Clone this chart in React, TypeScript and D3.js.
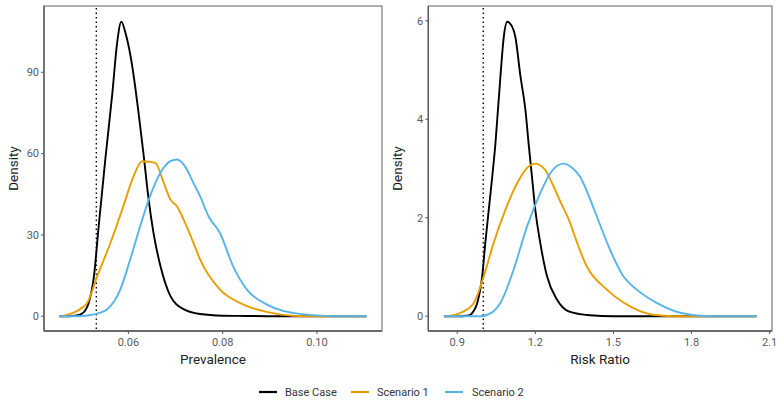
import React from "react";
import * as d3 from "d3";

// ---------- Data ----------
const seriesNames = ["Base Case", "Scenario 1", "Scenario 2"];
const seriesColors = ["#000000", "#E69F00", "#56B4E9"];

// Prevalence panel
const prevBaseX = [0.0454, 0.047, 0.048, 0.049, 0.0499, 0.0508, 0.0516, 0.0527, 0.0537, 0.0551, 0.0566, 0.0576, 0.0585, 0.0594, 0.0606, 0.0615, 0.0623, 0.0632, 0.0643, 0.0653, 0.0668, 0.0689, 0.0717, 0.0752, 0.08, 0.085, 0.09, 0.1105];
const prevBaseY = [0, 0, 0.1, 0.3, 0.7, 2, 5, 14.8, 33.2, 57.8, 82.3, 100.7, 108.7, 104.4, 94.6, 84, 73, 60, 43, 31, 18.5, 7.5, 2.6, 0.8, 0.2, 0.1, 0, 0];
const prevS1X = [0.0454, 0.047, 0.0485, 0.0499, 0.0513, 0.0534, 0.0562, 0.0587, 0.0611, 0.0629, 0.0643, 0.0657, 0.0675, 0.0689, 0.0703, 0.0717, 0.0738, 0.0752, 0.0794, 0.0843, 0.0893, 0.0949, 0.1, 0.1105];
const prevS1Y = [0, 0.5, 1.4, 2.8, 5, 14.8, 27.1, 39.4, 51.6, 57.2, 57, 56.6, 49.2, 43.1, 40.6, 35.7, 27.1, 21, 9.9, 4.4, 1.6, 0.2, 0, 0];
const prevS2X = [0.0454, 0.05, 0.0527, 0.0555, 0.0583, 0.0604, 0.0625, 0.0646, 0.0668, 0.0689, 0.0703, 0.072, 0.0738, 0.0752, 0.077, 0.0794, 0.0822, 0.0851, 0.0893, 0.0928, 0.0998, 0.104, 0.1105];
const prevS2Y = [0, 0.1, 0.7, 2.6, 9.9, 21, 33.2, 44.3, 52.9, 57.2, 57.8, 55.3, 49.2, 44.3, 36.9, 30.8, 18.5, 9.9, 4.4, 2, 0.3, 0, 0];

// Risk ratio panel
const rrBaseX = [0.849, 0.91, 0.935, 0.951, 0.965, 0.977, 0.996, 1.008, 1.028, 1.047, 1.066, 1.079, 1.092, 1.111, 1.123, 1.143, 1.162, 1.174, 1.187, 1.2, 1.219, 1.245, 1.283, 1.328, 1.41, 1.5, 2.049];
const rrBaseY = [0, 0, 0.01, 0.03, 0.12, 0.27, 0.81, 1.49, 2.5, 3.52, 4.87, 5.68, 5.98, 5.88, 5.68, 4.87, 4.19, 3.52, 2.84, 2.16, 1.49, 0.81, 0.34, 0.1, 0.02, 0, 0];
const rrS1X = [0.849, 0.874, 0.913, 0.964, 1.002, 1.04, 1.085, 1.13, 1.174, 1.2, 1.238, 1.27, 1.296, 1.334, 1.347, 1.398, 1.475, 1.564, 1.653, 1.73, 2.049];
const rrS1Y = [0, 0.01, 0.07, 0.27, 0.81, 1.49, 2.16, 2.7, 3.04, 3.1, 2.97, 2.64, 2.33, 1.89, 1.69, 1.01, 0.54, 0.2, 0.03, 0, 0];
const rrS2X = [0.849, 0.99, 1.015, 1.04, 1.066, 1.117, 1.168, 1.219, 1.257, 1.308, 1.34, 1.372, 1.411, 1.436, 1.487, 1.538, 1.59, 1.666, 1.756, 1.86, 2.049];
const rrS2Y = [0, 0, 0.03, 0.1, 0.27, 0.95, 1.82, 2.5, 2.9, 3.1, 3.02, 2.83, 2.37, 2.03, 1.35, 0.81, 0.54, 0.27, 0.07, 0, 0];

const prevXTicks = [0.06, 0.08, 0.1];
const prevYTicks = [0, 30, 60, 90];
const rrXTicks = [0.9, 1.2, 1.5, 1.8, 2.1];
const rrYTicks = [0, 2, 4, 6];

const prevRef = 0.0532;
const rrRef = 1.0;

const FONT = "Roboto, 'Noto Sans', Arial, sans-serif";

type PanelProps = {
  left: number;
  right: number;
  top: number;
  bottom: number;
  xDomain: [number, number];
  yDomain: [number, number];
  xTicks: number[];
  yTicks: number[];
  xFmt: (v: number) => string;
  xTitle: string;
  series: { x: number[]; y: number[] }[];
  refX: number;
};

function Panel(p: PanelProps) {
  const x = d3.scaleLinear().domain(p.xDomain).range([p.left, p.right]);
  const y = d3.scaleLinear().domain(p.yDomain).range([p.bottom, p.top]);
  const line = d3
    .line<[number, number]>()
    .x((d) => x(d[0]))
    .y((d) => y(d[1]))
    .curve(d3.curveMonotoneX);
  const clipId = "clip-" + p.xTitle.replace(/\s/g, "");
  return (
    <g>
      <defs>
        <clipPath id={clipId}>
          <rect x={p.left} y={p.top} width={p.right - p.left} height={p.bottom - p.top} />
        </clipPath>
      </defs>
      <g clipPath={`url(#${clipId})`}>
        <line
          x1={x(p.refX)}
          x2={x(p.refX)}
          y1={p.top + 2}
          y2={p.bottom}
          stroke="#000"
          strokeWidth={1.4}
          strokeDasharray="1.5,3"
        />
        {p.series.map((s, i) => (
          <path
            key={i}
            d={line(s.x.map((v, j) => [v, s.y[j]] as [number, number])) || ""}
            fill="none"
            stroke={seriesColors[i]}
            strokeWidth={1.9}
            strokeLinejoin="round"
          />
        ))}
      </g>
      <rect
        x={p.left}
        y={p.top}
        width={p.right - p.left}
        height={p.bottom - p.top}
        fill="none"
        stroke="#6e6e6e"
        strokeWidth={1.1}
      />
      <line x1={p.left} x2={p.left} y1={p.top} y2={p.bottom} stroke="#555" strokeWidth={1.3} />
      <line x1={p.left} x2={p.right} y1={p.bottom} y2={p.bottom} stroke="#555" strokeWidth={1.3} />
      {p.yTicks.map((t) => (
        <g key={"y" + t}>
          <line x1={p.left - 3} x2={p.left} y1={y(t)} y2={y(t)} stroke="#555" strokeWidth={1} />
          <text
            x={p.left - 5}
            y={y(t)}
            dy="0.35em"
            textAnchor="end"
            fontSize={11}
            fill="#5a5a5a"
            fontFamily={FONT}
          >
            {t}
          </text>
        </g>
      ))}
      {p.xTicks.map((t) => (
        <g key={"x" + t}>
          <line x1={x(t)} x2={x(t)} y1={p.bottom} y2={p.bottom + 3} stroke="#555" strokeWidth={1} />
          <text
            x={x(t)}
            y={p.bottom + 15}
            textAnchor="middle"
            fontSize={11}
            fill="#5a5a5a"
            fontFamily={FONT}
          >
            {p.xFmt(t)}
          </text>
        </g>
      ))}
      <text
        x={(p.left + p.right) / 2}
        y={p.bottom + 33}
        textAnchor="middle"
        fontSize={13.5}
        fill="#222"
        fontFamily={FONT}
      >
        {p.xTitle}
      </text>
      <text
        transform={`translate(${p.left - 26},${(p.top + p.bottom) / 2}) rotate(-90)`}
        textAnchor="middle"
        fontSize={13.5}
        fill="#222"
        fontFamily={FONT}
      >
        Density
      </text>
    </g>
  );
}

export default function App() {
  const W = 780;
  const H = 406;
  const legendItems = [
    { x1: 259, tx: 285 },
    { x1: 351, tx: 377 },
    { x1: 445, tx: 472 },
  ];
  return (
    <svg
      width={W}
      height={H}
      style={{ position: "absolute", left: 0, top: 0, background: "#fff" }}
    >
      <rect width={W} height={H} fill="#fff" />
      <Panel
        left={44}
        right={382}
        top={6}
        bottom={331}
        xDomain={[0.0421, 0.1138]}
        yDomain={[-5.45, 114.45]}
        xTicks={prevXTicks}
        yTicks={prevYTicks}
        xFmt={(v) => v.toFixed(2)}
        xTitle="Prevalence"
        series={[
          { x: prevBaseX, y: prevBaseY },
          { x: prevS1X, y: prevS1Y },
          { x: prevS2X, y: prevS2Y },
        ]}
        refX={prevRef}
      />
      <Panel
        left={428.3}
        right={772}
        top={6}
        bottom={331}
        xDomain={[0.789, 2.109]}
        yDomain={[-0.3, 6.3]}
        xTicks={rrXTicks}
        yTicks={rrYTicks}
        xFmt={(v) => v.toFixed(1)}
        xTitle="Risk Ratio"
        series={[
          { x: rrBaseX, y: rrBaseY },
          { x: rrS1X, y: rrS1Y },
          { x: rrS2X, y: rrS2Y },
        ]}
        refX={rrRef}
      />
      {seriesNames.map((n, i) => (
        <g key={n}>
          <line
            x1={legendItems[i].x1}
            x2={legendItems[i].x1 + 18}
            y1={392}
            y2={392}
            stroke={seriesColors[i]}
            strokeWidth={2.2}
          />
          <text
            x={legendItems[i].tx}
            y={392}
            dy="0.35em"
            fontSize={11}
            fill="#333"
            fontFamily={FONT}
          >
            {n}
          </text>
        </g>
      ))}
    </svg>
  );
}
